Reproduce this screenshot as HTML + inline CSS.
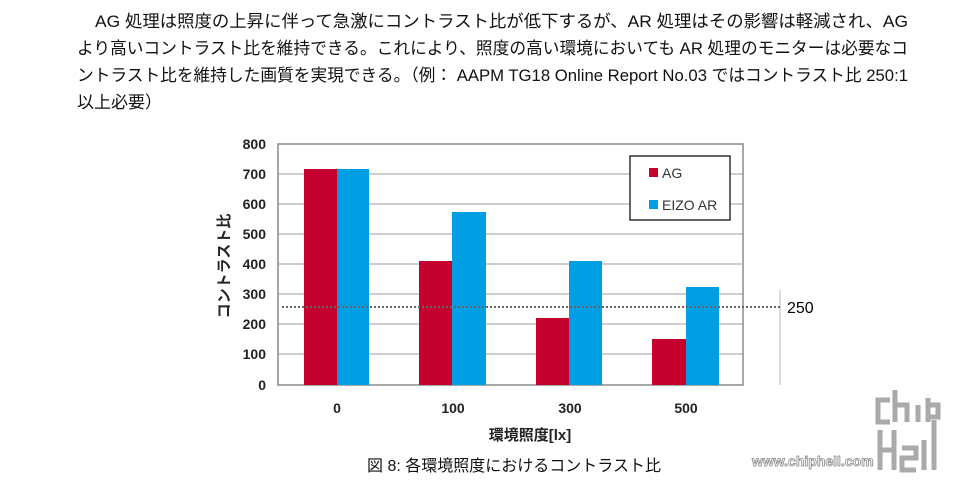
<!DOCTYPE html>
<html><head><meta charset="utf-8"><style>
body{margin:0;background:#fff;width:979px;height:495px;overflow:hidden}
svg{display:block}
</style></head><body>
<svg width="979" height="495" xmlns="http://www.w3.org/2000/svg" font-family="'Liberation Sans','Noto Sans CJK JP',sans-serif">
<g font-size="17" fill="#111">
<text x="95" y="27" textLength="813" lengthAdjust="spacingAndGlyphs">AG 処理は照度の上昇に伴って急激にコントラスト比が低下するが、AR 処理はその影響は軽減され、AG</text>
<text x="77" y="54" textLength="831" lengthAdjust="spacingAndGlyphs">より高いコントラスト比を維持できる。これにより、照度の高い環境においても AR 処理のモニターは必要なコ</text>
<text x="77" y="81" textLength="831" lengthAdjust="spacingAndGlyphs">ントラスト比を維持した画質を実現できる。（例： AAPM TG18 Online Report No.03 ではコントラスト比 250:1</text>
<text x="77" y="108">以上必要）</text>
</g>
<g stroke="#bdbdbd" stroke-width="1.5">
<line x1="278" y1="174" x2="743" y2="174"/><line x1="278" y1="204" x2="743" y2="204"/>
<line x1="278" y1="234" x2="743" y2="234"/><line x1="278" y1="264" x2="743" y2="264"/>
<line x1="278" y1="294" x2="743" y2="294"/><line x1="278" y1="324" x2="743" y2="324"/>
<line x1="278" y1="354" x2="743" y2="354"/>
</g>
<rect x="278" y="144" width="465" height="241" fill="none" stroke="#8a8a8a" stroke-width="1.5"/>
<line x1="780" y1="290" x2="780" y2="385" stroke="#bbb" stroke-width="1"/>
<g fill="#c4002f">
<rect x="304" y="169" width="33" height="216"/><rect x="419" y="261" width="33" height="124"/>
<rect x="536" y="318" width="33" height="67"/><rect x="652" y="339" width="34" height="46"/>
</g>
<g fill="#009fe3">
<rect x="337" y="169" width="32" height="216"/><rect x="452" y="212" width="34" height="173"/>
<rect x="569" y="261" width="33" height="124"/><rect x="686" y="287" width="33" height="98"/>
</g>
<line x1="282" y1="307" x2="780" y2="307" stroke="#666" stroke-width="2" stroke-dasharray="2,2"/>
<text x="787" y="313" font-size="16">250</text>
<rect x="630" y="156" width="100" height="64" fill="#fff" stroke="#333" stroke-width="1.5"/>
<rect x="649" y="168" width="9" height="9" fill="#c4002f"/>
<text x="662" y="178" font-size="14" fill="#333">AG</text>
<rect x="649" y="200" width="9" height="9" fill="#009fe3"/>
<text x="662" y="210" font-size="14" fill="#333">EIZO AR</text>
<g font-size="14" fill="#222" text-anchor="end" font-weight="bold">
<text x="266" y="149">800</text><text x="266" y="179">700</text><text x="266" y="209">600</text>
<text x="266" y="239">500</text><text x="266" y="269">400</text><text x="266" y="299">300</text>
<text x="266" y="329">200</text><text x="266" y="359">100</text><text x="266" y="390">0</text>
</g>
<g font-size="14" fill="#222" text-anchor="middle" font-weight="bold">
<text x="337" y="413">0</text><text x="453" y="413">100</text><text x="570" y="413">300</text><text x="686" y="413">500</text>
<text x="530" y="440" font-size="15">環境照度[lx]</text>
</g>
<text transform="translate(229,266) rotate(-90)" font-size="15" font-weight="bold" text-anchor="middle" fill="#222">コントラスト比</text>
<text x="514" y="471" font-size="16" text-anchor="middle" fill="#111">図 8:  各環境照度におけるコントラスト比</text>
<text x="752" y="466" font-size="14" font-weight="bold" fill="#fff" stroke="#888" stroke-width="0.8">www.chiphell.com</text>
<g fill="none" stroke="#aaa" stroke-width="5">
<path d="M890 400 h-12 v22 h12 M895 390 v32 M895 405 h12 v17 M918 405 v17 M928 398 v24 M928 405 h10 v12 h-10"/>
<path d="M880 430 v40 M880 450 h14 M894 430 v40 M902 448 h14 v10 h-14 v12 h14 M924 440 v30 M934 420 v50"/>
</g>
</svg>
</body></html>
